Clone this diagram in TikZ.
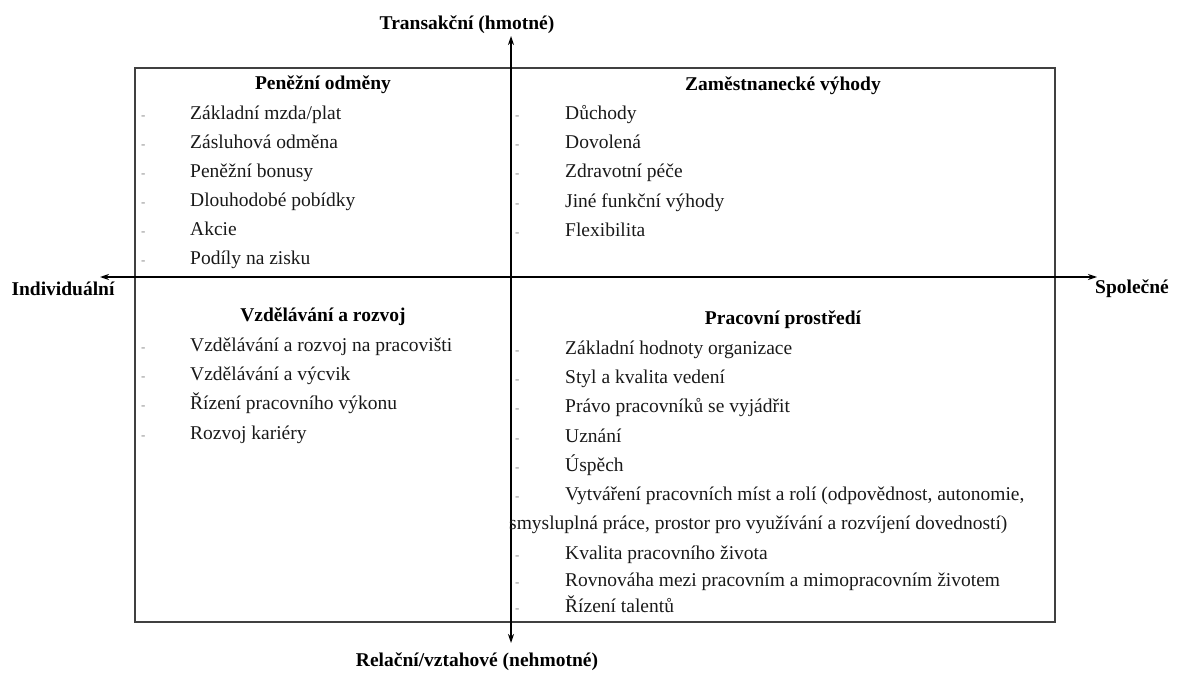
\documentclass[tikz,border=0pt]{standalone}
\usepackage{fontspec}
\setmainfont{Liberation Serif}
\usetikzlibrary{arrows.meta}
\begin{document}
\begin{tikzpicture}[x=1pt,y=-1pt,
  every node/.style={inner sep=0pt, font=\fontsize{19.5}{23}\selectfont},
  head/.style={anchor=base, font=\fontsize{19.5}{23}\selectfont\bfseries},
  item/.style={anchor=base west, text=black!90},
  dashmark/.style={anchor=base west, text=black!45, font=\fontsize{13}{15}\selectfont},
  axislabel/.style={font=\fontsize{19.5}{23}\selectfont\bfseries},
  axis/.style={line width=1.3pt, -{Stealth[length=9pt,width=6pt]}},
  frame/.style={draw=black!75, line width=1.3pt}]
\useasboundingbox (0,0) rectangle (1182,679);
\draw[frame] (135,68) rectangle (1055,622);

% axis labels
\node[axislabel] (tl) at (467,25) {Transakční (hmotné)};
\node[axislabel] (bl) at (477,662) {Relační/vztahové (nehmotné)};
\node[axislabel] (ll) at (63,289) {Individuální};
\node[axislabel] (rl) at (1132,289) {Společné};
\coordinate (ctop) at (511,36);
\coordinate (cbot) at (511,643);
\coordinate (cleft) at (100,277);
\coordinate (cright) at (1097,277);
\coordinate (cmid) at (511,277);
\draw[axis] (cmid) -- (ctop);
\draw[axis] (cmid) -- (cbot);
\draw[axis] (cmid) -- (cleft);
\draw[axis] (cmid) -- (cright);

% quadrant: top-left
\node[head] (h1) at (323,90) {Peněžní odměny};
\foreach \t [count=\i] in {Základní mzda/plat,Zásluhová odměna,Peněžní bonusy,Dlouhodobé pobídky,Akcie,Podíly na zisku}{
  \pgfmathsetmacro{\yy}{90+29.1*\i}
  \node[dashmark] (d1\i) at (141,\yy) {-};
  \node[item] (a1\i) at (190,\yy) {\t};
}
% quadrant: top-right
\node[head] (h2) at (783,91) {Zaměstnanecké výhody};
\foreach \t [count=\i] in {Důchody,Dovolená,Zdravotní péče,Jiné funkční výhody,Flexibilita}{
  \pgfmathsetmacro{\yy}{91+29*\i}
  \node[dashmark] (d2\i) at (515,\yy) {-};
  \node[item] (a2\i) at (565,\yy) {\t};
}
% quadrant: bottom-left
\node[head] (h3) at (323,321) {Vzdělávání a rozvoj};
\foreach \t [count=\i] in {Vzdělávání a rozvoj na pracovišti,Vzdělávání a výcvik,Řízení pracovního výkonu,Rozvoj kariéry}{
  \pgfmathsetmacro{\yy}{322+29.3*\i}
  \node[dashmark] (d3\i) at (141,\yy) {-};
  \node[item] (a3\i) at (190,\yy) {\t};
}
% quadrant: bottom-right
\node[head] (h4) at (783,324) {Pracovní prostředí};
\foreach \t/\yy [count=\i] in {Základní hodnoty organizace/354,Styl a kvalita vedení/383,Právo pracovníků se vyjádřit/412,Uznání/442,Úspěch/471,{Vytváření pracovních míst a rolí (odpovědnost, autonomie,}/500,Kvalita pracovního života/559,Rovnováha mezi pracovním a mimopracovním životem/586,Řízení talentů/612}{
  \node[dashmark] (d4\i) at (515,\yy) {-};
  \node[item] (a4\i) at (565,\yy) {\t};
}
\node[item] (a4c) at (509,529) {smysluplná práce, prostor pro využívání a rozvíjení dovedností)};
\end{tikzpicture}
\end{document}
